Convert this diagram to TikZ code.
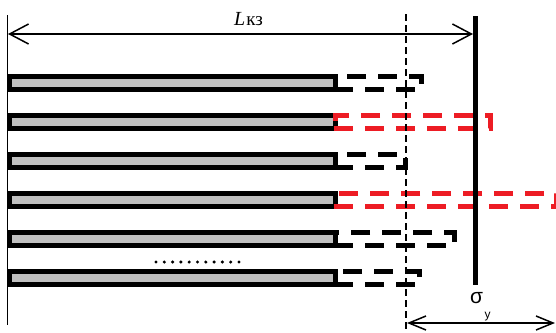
\documentclass[tikz,border=0pt]{standalone}
\usepackage{fontspec}
\newfontfamily\serifcyr{Liberation Serif}
\newfontfamily\sanscyr{Liberation Sans}
\usetikzlibrary{arrows.meta}
\definecolor{crackred}{RGB}{237,28,36}
\definecolor{bargray}{RGB}{192,192,192}
\begin{document}
\begin{tikzpicture}[x=1pt,y=-1pt,
  bar/.style={draw=black,line width=5pt,fill=bargray},
  crack/.style={line width=5pt,dash pattern=on 19pt off 12pt,miter limit=10},
  dimline/.style={line width=1.5pt,{Straight Barb[length=19pt,width=20pt]}-{Straight Barb[length=19pt,width=20pt]}},
  smalldim/.style={line width=1.5pt,{Straight Barb[length=17pt,width=14pt]}-{Straight Barb[length=17pt,width=14pt]}},
  label/.style={inner sep=0pt}]
\useasboundingbox (0,0) rectangle (556,332);

% fibres (bars)
\foreach \i/\yc in {1/83,2/122,3/161,4/200,5/239,6/278}{
  \draw[bar] (9.5,\yc-6.5) rectangle (335.5,\yc+6.5);
}

% crack extensions beyond the bar ends
\draw[crack] (334,89.5) -- (421,89.5) -- (421,76.5) -- (335,76.5);
\draw[crack,crackred] (334,128.5) -- (490,128.5) -- (490,115.5) -- (335,115.5) -- (335,125);
\draw[crack] (334,167.5) -- (405.5,167.5) -- (405.5,154.5) -- (335,154.5);
\draw[crack,crackred] (334,206.5) -- (556.5,206.5) -- (556.5,193.5) -- (335,193.5);
\draw[crack] (334,245.5) -- (454,245.5) -- (454,232.5) -- (335,232.5);
\draw[crack] (334,284.5) -- (419,284.5) -- (419,271.5) -- (335,271.5);

% row of dots
\foreach \k in {0,...,10}{
  \fill (156+8.3*\k,262) circle (1.7);
}

% left reference line
\coordinate (leftTop) at (7.5,15);
\coordinate (leftBot) at (7.5,325);
\draw[line width=1.5pt] (leftTop) -- (leftBot);

% dashed boundary line
\coordinate (dashTop) at (406,14);
\coordinate (dashBot) at (406,332);
\draw[line width=1.8pt,dash pattern=on 7pt off 4pt] (dashTop) -- (dashBot);

% stress plane
\coordinate (planeTop) at (475.5,16);
\coordinate (planeBot) at (475.5,285);
\draw[line width=5pt] (planeTop) -- (planeBot);

% dimension arrows
\coordinate (lkzA) at (8,34);
\coordinate (lkzB) at (473,34);
\draw[dimline] (lkzA) -- (lkzB);
\coordinate (syA) at (407,323);
\coordinate (syB) at (555,323);
\draw[smalldim] (syA) -- (syB);

% labels
\node[label,anchor=base west,font=\serifcyr\fontsize{19}{19}\selectfont] (lkz) at (234,25)
  {{\fontsize{20}{20}\selectfont\textit{L}}\hspace{1pt}кз};
\node[label,anchor=base,font=\sanscyr\fontsize{21}{21}\selectfont] (sigma) at (476.5,303) {σ};
\node[label,anchor=base,font=\sanscyr\fontsize{12}{12}\selectfont] (sub) at (487.5,318.5) {у};
\end{tikzpicture}
\end{document}
